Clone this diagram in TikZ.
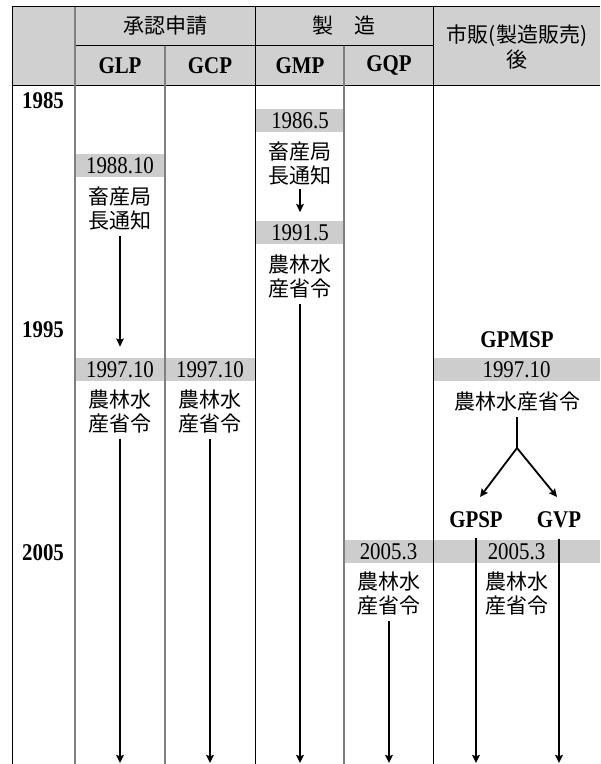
\documentclass[tikz,border=0pt]{standalone}
\usepackage{fontspec}
\setmainfont{Liberation Serif}[FakeStretch=0.87]
\newfontfamily\jpfont{Noto Sans CJK JP}
\usetikzlibrary{arrows.meta}
\definecolor{headgray}{RGB}{208,208,208}
\definecolor{bandgray}{RGB}{205,205,205}
\pgfkeys{tikz/band/.style={fill=bandgray,inner sep=0pt,minimum height=11.5pt,font=\fontsize{12}{12}\selectfont}}
\tikzset{
  rule/.style={line width=0.5pt},
  subrule/.style={gray,line width=0.8pt},
  heading/.style={inner sep=0pt,align=center,font=\jpfont\fontsize{10.5}{12.5}\selectfont},
  code/.style={inner sep=0pt,font=\bfseries\fontsize{12}{12}\selectfont},
  era/.style={inner sep=0pt,font=\bfseries\fontsize{12}{12}\selectfont},
  ordinance/.style={inner sep=0pt,align=center,font=\jpfont\fontsize{10.5}{11.7}\selectfont},
  arr/.style={-{Stealth[length=4pt,width=3.8pt,inset=0.6pt]},line width=0.9pt,shorten <=3pt},
}
\newcommand*\yearband[4][45pt]{\node[band,minimum width=#1] (#2) at (#3) {#4};}

\begin{document}
\begin{tikzpicture}[x=0.5pt,y=-0.5pt]
\useasboundingbox (0,0) rectangle (600,764);

% header and grid
\fill[headgray] (12,7) rectangle (600,86);
\yearband{bglp88}{120,165.5}{1988.10}
\yearband{bglp97}{120,369.5}{1997.10}
\yearband{bgcp97}{210,369.5}{1997.10}
\yearband[44.5pt]{bgmp86}{300,120.5}{1986.5}
\yearband[44.5pt]{bgmp91}{300,233}{1991.5}
\yearband[44.5pt]{bgqp05}{388.5,551.5}{2005.3}
\yearband[83.5pt]{bmkt97}{516.5,369.5}{1997.10}
\yearband[83.5pt]{bmkt05}{516.5,551.5}{2005.3}
\draw[rule] (12,7) -- (600,7) (12,86) -- (600,86) (75,46) -- (433,46);
\foreach \x in {12,255,433} \draw[rule] (\x,7) -- (\x,764);
\draw[subrule] (75,7) -- (75,764);
\foreach \x in {165,344} \draw[subrule] (\x,46) -- (\x,764);

\node[heading] (approval) at (165,26) {承認申請};
\node[heading] (manufacture) at (344,26) {製　造};
\node[heading] (market) at (517,47) {市販(製造販売)\\後};
\foreach \x/\n in {120/GLP,210/GCP,300/GMP,389/GQP}
  \node[code] (h\n) at (\x,66) {\n};
\foreach \y/\yr in {101/1985,330/1995,553/2005}
  \node[era] (y\yr) at (43,\y) {\yr};

% notices and ordinances
\node[ordinance] (glpa) at (120,208.5) {畜産局\\長通知};
\node[ordinance] (glpb) at (120,411.5) {農林水\\産省令};
\node[ordinance] (gcpb) at (210,411.5) {農林水\\産省令};
\node[ordinance] (gmpa) at (300,163.5) {畜産局\\長通知};
\node[ordinance] (gmpb) at (300,276.5) {農林水\\産省令};
\node[ordinance] (gqpb) at (389,593.5) {農林水\\産省令};
\node[code] (gpmsp) at (517,340) {GPMSP};
\node[ordinance] (mkta) at (517,402) {農林水産省令};
\node[code] (gpsp) at (476,520) {GPSP};
\node[code] (gvp) at (559,520) {GVP};
\node[ordinance] (mktb) at (517,593.5) {農林水\\産省令};
\coordinate (fork) at (517,448);
\coordinate (tipgpsp) at (480,497);
\coordinate (tipgvp) at (557,497);
\foreach \x/\n in {120/glp,210/gcp,300/gmp,389/gqp,476/gpsp,559/gvp}
  \coordinate (end\n) at (\x,763);

% arrows
\draw[arr,shorten >=5.5pt] (glpa) -- (bglp97);
\draw[arr,shorten <=2pt,shorten >=4.5pt] (gmpa) -- (bgmp91);
\draw[arr] (glpb) -- (endglp);
\draw[arr] (gcpb) -- (endgcp);
\draw[arr] (gmpb) -- (endgmp);
\draw[arr] (gqpb) -- (endgqp);
\draw[line width=0.9pt,shorten <=2.7pt] (mkta) -- (fork);
\draw[arr,shorten <=0pt] (fork) -- (tipgpsp);
\draw[arr,shorten <=0pt] (fork) -- (tipgvp);
\draw[arr,shorten <=5pt] (gpsp) -- (endgpsp);
\draw[arr,shorten <=5pt] (gvp) -- (endgvp);
\end{tikzpicture}
\end{document}
